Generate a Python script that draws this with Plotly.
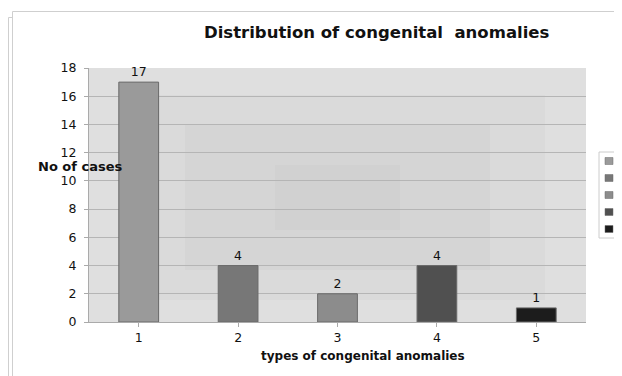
import plotly.graph_objects as go

categories = ["1", "2", "3", "4", "5"]
cases = [17, 4, 2, 4, 1]
bar_colors = ["#9a9a9a", "#777777", "#8c8c8c", "#505050", "#1c1c1c"]
y_ticks = [0, 2, 4, 6, 8, 10, 12, 14, 16, 18]

# the page body has an 8px margin, so the figure is 8px smaller and
# every screen coordinate below is shifted by OFF
OFF = 8
W, H = 622 - OFF, 376 - OFF
L, R, T, B = 89 - OFF, 36, 68 - OFF, 54
pw, ph = W - L - R, H - T - B

def px(x):
    return (x - OFF - L) / pw

def py(y):
    return (H - B - (y - OFF)) / ph

FONT = "DejaVu Sans, Arial, sans-serif"

fig = go.Figure()
for cat, val, col in zip(categories, cases, bar_colors):
    fig.add_trace(go.Bar(
        x=[cat], y=[val], name=cat, width=0.4, showlegend=False,
        marker=dict(color=col, line=dict(color="#6a6a6a", width=1)),
        text=[str(val)], textposition="outside", cliponaxis=False,
        textfont=dict(family=FONT, size=12.5, color="#111111"),
    ))

shapes = []
# plot-area background gradient (darker toward centre)
for (x0, y0, x1, y1, c) in [
    (140, 95, 545, 300, "#dadada"),
    (185, 125, 490, 270, "#d5d5d5"),
    (275, 165, 400, 230, "#d1d1d1"),
]:
    shapes.append(dict(type="rect", xref="paper", yref="paper", layer="below",
                       x0=px(x0), x1=px(x1), y0=py(y1), y1=py(y0),
                       fillcolor=c, line=dict(width=0)))
# outer frame lines
for (x0, y0, x1, y1) in [(12.5, 11.5, 622, 11.5), (12.5, 11.5, 12.5, 376),
                         (8.5, 17.5, 8.5, 376), (8.5, 17.5, 12.5, 17.5)]:
    shapes.append(dict(type="line", xref="paper", yref="paper",
                       x0=px(x0), x1=px(x1), y0=py(y0), y1=py(y1),
                       line=dict(color="#cfcfcf", width=1)))

annotations = [
    dict(text="Distribution of congenital\u00a0\u00a0anomalies", xref="paper", yref="paper",
         x=px(377), y=py(32), xanchor="center", yanchor="middle", showarrow=False,
         font=dict(family=FONT, size=16.5, color="#111111", weight="bold")),
    dict(text="No of cases", xref="paper", yref="paper",
         x=px(124), y=py(166), xanchor="right", yanchor="middle", showarrow=False,
         font=dict(family=FONT, size=13, color="#111111", weight="bold")),
    dict(text="types of congenital anomalies", xref="paper", yref="paper",
         x=px(363), y=py(356), xanchor="center", yanchor="middle", showarrow=False,
         font=dict(family=FONT, size=12, color="#111111", weight="bold")),
]

# manual legend (cut off at the right edge, as in the reference)
shapes.append(dict(type="rect", xref="paper", yref="paper",
                   x0=px(599), x1=px(640), y0=py(238), y1=py(152),
                   fillcolor="white", line=dict(color="#cccccc", width=1)))
for i, (cat, col) in enumerate(zip(categories, bar_colors)):
    cy = 161 + 17 * i
    shapes.append(dict(type="rect", xref="paper", yref="paper",
                       x0=px(605), x1=px(613), y0=py(cy + 3.5), y1=py(cy - 3.5),
                       fillcolor=col, line=dict(color="#6a6a6a", width=0.5)))
    annotations.append(dict(text=cat, xref="paper", yref="paper",
                            x=px(616), y=py(cy), xanchor="left", yanchor="middle",
                            showarrow=False, borderpad=0,
                            font=dict(family=FONT, size=10, color="#111111")))

fig.update_layout(
    width=W, height=H,
    margin=dict(l=L, r=R, t=T, b=B, pad=0),
    paper_bgcolor="white", plot_bgcolor="#dfdfdf",
    barmode="overlay", showlegend=False,
    shapes=shapes, annotations=annotations,
    font=dict(family=FONT, size=13, color="#111111"),
    xaxis=dict(type="category", range=[-0.5, 4.5], showgrid=False,
               showline=True, linecolor="#aaaaaa", ticks="outside", ticklen=4,
               tickcolor="#aaaaaa", tickfont=dict(size=12.5), fixedrange=True),
    yaxis=dict(range=[0, 18], tickvals=y_ticks, showgrid=True, gridcolor="#b5b5b5",
               gridwidth=1, showline=True, linecolor="#aaaaaa", ticks="outside",
               ticklen=4, tickcolor="#aaaaaa", tickfont=dict(size=12.5),
               ticklabelstandoff=5, zeroline=False, fixedrange=True),
)

fig.write_html("out.html")
